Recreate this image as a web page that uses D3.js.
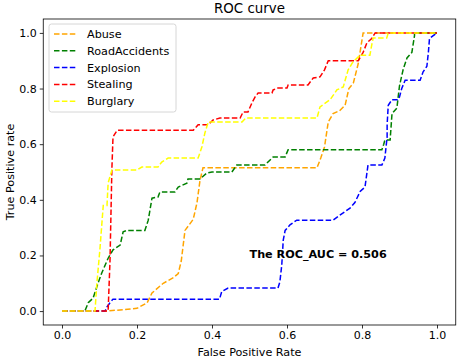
<!DOCTYPE html>
<html>
<head>
<meta charset="utf-8">
<script src="https://cdn.jsdelivr.net/npm/d3@7"></script>
<style>
  body { margin: 0; background: #fff; }
  text { font-family: "DejaVu Sans", sans-serif; fill: #000; }
</style>
</head>
<body>
<div id="chart"></div>
<script>
// Series (false positive rate / true positive rate)
const seriesNames = ["Abuse", "RoadAccidents", "Explosion", "Stealing", "Burglary"];
const seriesColors = ["orange", "green", "blue", "red", "yellow"];

const abuseFpr = [0, 0.12, 0.2, 0.227, 0.24, 0.27, 0.297, 0.31, 0.318, 0.328, 0.35, 0.36, 0.368, 0.376, 0.68, 0.69, 0.7, 0.71, 0.723, 0.74, 0.755, 0.765, 0.777, 0.79, 0.803, 1.0];
const abuseTpr = [0, 0, 0.01, 0.03, 0.065, 0.1, 0.12, 0.135, 0.18, 0.29, 0.33, 0.39, 0.47, 0.515, 0.515, 0.55, 0.59, 0.68, 0.71, 0.72, 0.74, 0.8, 0.82, 0.89, 1.0, 1.0];

const roadFpr = [0, 0.061, 0.07, 0.083, 0.096, 0.106, 0.123, 0.136, 0.155, 0.163, 0.173, 0.221, 0.23, 0.24, 0.256, 0.261, 0.301, 0.31, 0.333, 0.336, 0.368, 0.386, 0.4, 0.453, 0.466, 0.541, 0.563, 0.595, 0.603, 0.853, 0.858, 0.861, 0.875, 0.88, 0.893, 0.9, 0.91, 0.92, 0.933, 0.94, 0.94, 1.0];
const roadTpr = [0, 0, 0.03, 0.047, 0.1, 0.137, 0.19, 0.22, 0.237, 0.285, 0.29, 0.29, 0.327, 0.406, 0.41, 0.428, 0.428, 0.446, 0.46, 0.475, 0.475, 0.496, 0.5, 0.5, 0.525, 0.525, 0.554, 0.554, 0.58, 0.58, 0.6, 0.615, 0.615, 0.71, 0.73, 0.81, 0.87, 0.91, 0.93, 0.99, 1.0, 1.0];

const explosionFpr = [0, 0.115, 0.12, 0.128, 0.136, 0.42, 0.426, 0.443, 0.576, 0.581, 0.586, 0.59, 0.595, 0.608, 0.626, 0.723, 0.741, 0.768, 0.781, 0.795, 0.808, 0.816, 0.853, 0.861, 0.867, 0.867, 0.87, 0.88, 0.896, 0.9, 0.906, 0.915, 0.955, 0.963, 0.973, 0.977, 0.98, 0.99, 1.0];
const explosionTpr = [0, 0, 0.015, 0.03, 0.043, 0.043, 0.07, 0.083, 0.083, 0.105, 0.165, 0.255, 0.29, 0.31, 0.327, 0.327, 0.345, 0.37, 0.39, 0.43, 0.446, 0.525, 0.525, 0.55, 0.626, 0.67, 0.74, 0.76, 0.76, 0.77, 0.8, 0.83, 0.83, 0.86, 0.88, 0.93, 0.98, 0.99, 1.0];

const stealingFpr = [0, 0.123, 0.128, 0.133, 0.136, 0.147, 0.35, 0.363, 0.39, 0.403, 0.421, 0.475, 0.483, 0.496, 0.507, 0.515, 0.523, 0.56, 0.563, 0.576, 0.6, 0.603, 0.656, 0.67, 0.688, 0.7, 0.71, 0.79, 0.803, 0.813, 0.826, 0.835, 1.0];
const stealingTpr = [0, 0, 0.18, 0.51, 0.626, 0.65, 0.65, 0.67, 0.67, 0.687, 0.694, 0.694, 0.716, 0.716, 0.75, 0.77, 0.784, 0.784, 0.795, 0.802, 0.802, 0.813, 0.813, 0.838, 0.842, 0.867, 0.9, 0.9, 0.93, 0.964, 0.98, 1.0, 1.0];

const burglaryFpr = [0, 0.088, 0.093, 0.101, 0.11, 0.12, 0.123, 0.133, 0.2, 0.213, 0.256, 0.266, 0.283, 0.363, 0.373, 0.381, 0.39, 0.48, 0.49, 0.68, 0.688, 0.715, 0.733, 0.75, 0.763, 0.776, 0.795, 0.821, 0.826, 0.83, 0.866, 0.87, 1.0];
const burglaryTpr = [0, 0, 0.1, 0.22, 0.38, 0.38, 0.46, 0.507, 0.507, 0.518, 0.518, 0.536, 0.55, 0.55, 0.59, 0.64, 0.68, 0.68, 0.694, 0.694, 0.734, 0.76, 0.795, 0.806, 0.867, 0.896, 0.92, 0.92, 0.957, 0.982, 0.982, 1.0, 1.0];

const fprList = [abuseFpr, roadFpr, explosionFpr, stealingFpr, burglaryFpr];
const tprList = [abuseTpr, roadTpr, explosionTpr, stealingTpr, burglaryTpr];

const tickValues = [0, 0.2, 0.4, 0.6, 0.8, 1.0];
const aucText = "The ROC_AUC = 0.506";
const aucPos = [0.5, 0.19];

// Layout
var W = 458, H = 360;
var margin = { top: 19, right: 2.25, bottom: 35, left: 43.25 };

var svg = d3.select("#chart")
    .append("svg")
    .attr("width", W)
    .attr("height", H)
    .style("display", "block");

var x = d3.scaleLinear()
    .domain([-0.05, 1.05])
    .range([margin.left, W - margin.right]);

var y = d3.scaleLinear()
    .domain([-0.05, 1.05])
    .range([H - margin.bottom, margin.top]);

// Curves
var line = d3.line()
    .x(d => x(d[0]))
    .y(d => y(d[1]));

seriesNames.forEach((name, i) => {
    let pts = fprList[i].map((f, j) => [f, tprList[i][j]]);
    svg.append("path")
        .datum(pts)
        .attr("fill", "none")
        .attr("stroke", seriesColors[i])
        .attr("stroke-width", 1.5)
        .attr("stroke-dasharray", "5.5,2.4")
        .attr("d", line);
});

// Frame
svg.append("rect")
    .attr("x", margin.left)
    .attr("y", margin.top)
    .attr("width", W - margin.right - margin.left)
    .attr("height", H - margin.bottom - margin.top)
    .attr("fill", "none")
    .attr("stroke", "#000")
    .attr("stroke-width", 0.8);

// Axes
var fmt = d3.format(".1f");
var xAxis = svg.append("g")
    .attr("transform", "translate(0," + (H - margin.bottom) + ")")
    .call(d3.axisBottom(x).tickValues(tickValues).tickFormat(fmt).tickSize(3.5).tickPadding(3));
var yAxis = svg.append("g")
    .attr("transform", "translate(" + margin.left + ",0)")
    .call(d3.axisLeft(y).tickValues(tickValues).tickFormat(fmt).tickSize(3.5).tickPadding(3));

[xAxis, yAxis].forEach(g => {
    g.select(".domain").remove();
    g.selectAll(".tick line").attr("stroke", "#000").attr("stroke-width", 0.8);
    g.selectAll(".tick text")
        .style("font-family", "DejaVu Sans")
        .style("font-size", "11px")
        .attr("fill", "#000");
});

// Title and labels
svg.append("text")
    .attr("x", (margin.left + W - margin.right) / 2)
    .attr("y", 13)
    .attr("text-anchor", "middle")
    .style("font-size", "13.4px")
    .text("ROC curve");

svg.append("text")
    .attr("x", (margin.left + W - margin.right) / 2)
    .attr("y", 356)
    .attr("text-anchor", "middle")
    .style("font-size", "11.2px")
    .text("False Positive Rate");

svg.append("text")
    .attr("transform", "rotate(-90)")
    .attr("x", -(margin.top + H - margin.bottom) / 2)
    .attr("y", 14)
    .attr("text-anchor", "middle")
    .style("font-size", "11.2px")
    .text("True Positive rate");

// AUC annotation
svg.append("text")
    .attr("x", x(aucPos[0]))
    .attr("y", y(aucPos[1]))
    .style("font-size", "11.2px")
    .style("font-weight", "bold")
    .text(aucText);

// Legend
var legend = svg.append("g");
legend.append("rect")
    .attr("x", 49)
    .attr("y", 24)
    .attr("width", 127)
    .attr("height", 88)
    .attr("rx", 2.5)
    .attr("fill", "#fff")
    .attr("fill-opacity", 0.8)
    .attr("stroke", "#cccccc")
    .attr("stroke-width", 0.8);

seriesNames.forEach((name, i) => {
    let ly = 34 + i * 16.8;
    legend.append("line")
        .attr("x1", 54).attr("x2", 77)
        .attr("y1", ly).attr("y2", ly)
        .attr("stroke", seriesColors[i])
        .attr("stroke-width", 1.5)
        .attr("stroke-dasharray", "5.5,2.4");
    legend.append("text")
        .attr("x", 87)
        .attr("y", ly)
        .attr("dy", "0.36em")
        .style("font-size", "11.2px")
        .text(name);
});
</script>
</body>
</html>
